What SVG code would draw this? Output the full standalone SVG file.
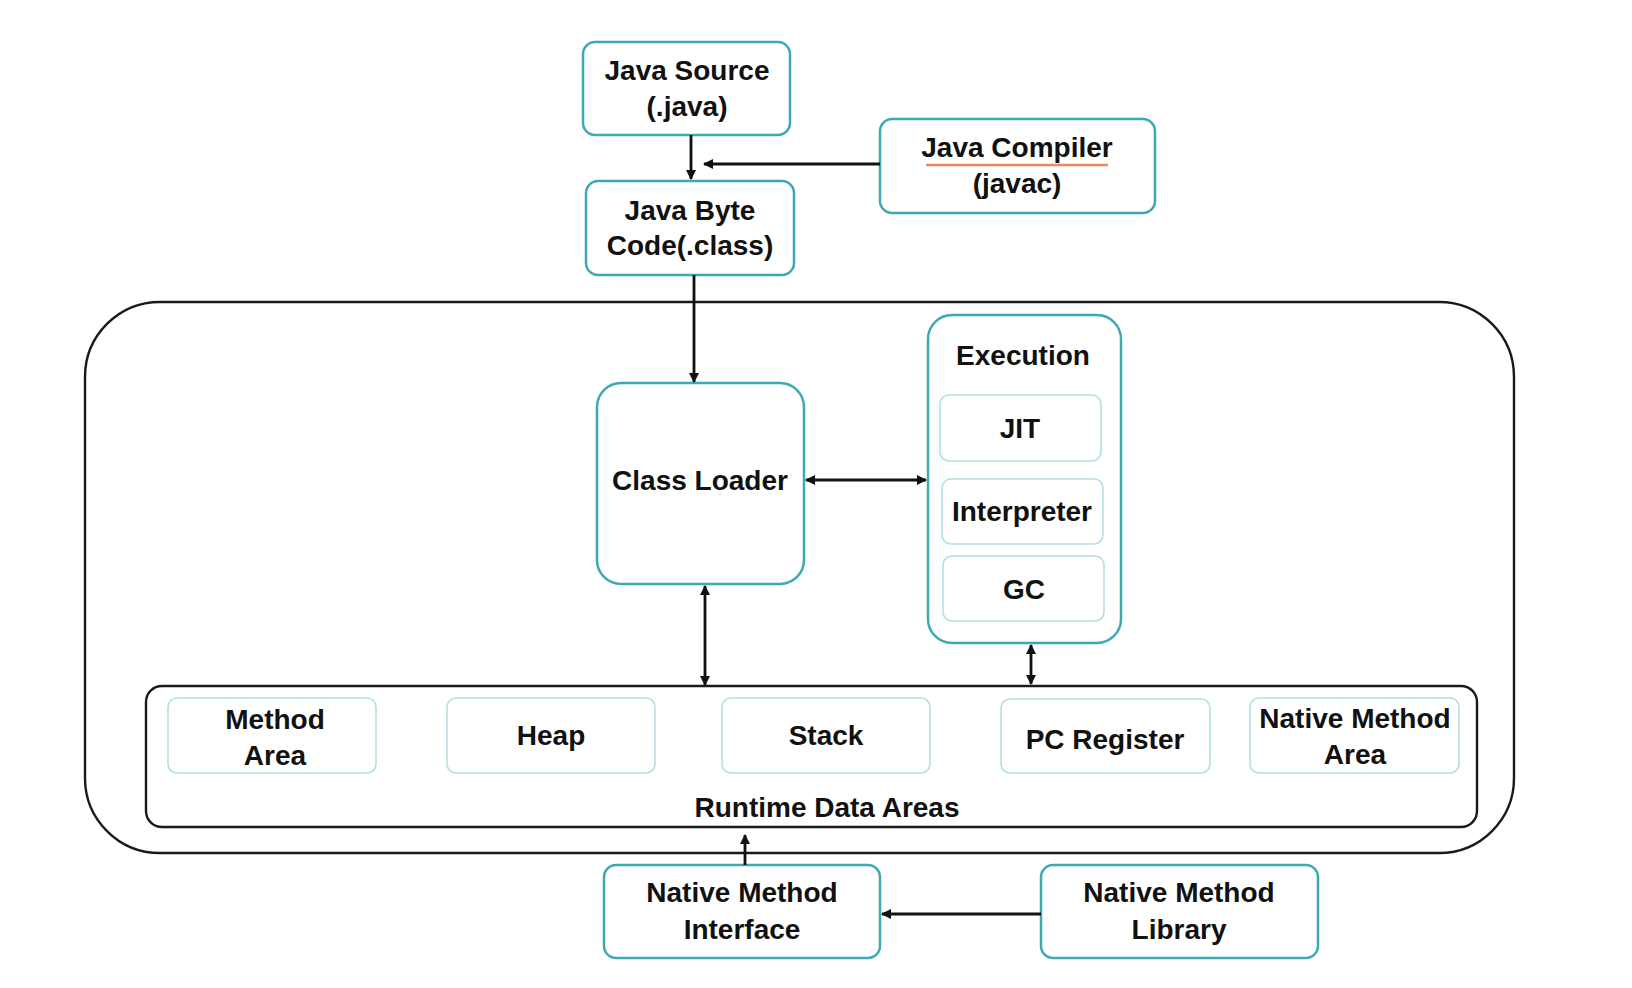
<svg xmlns="http://www.w3.org/2000/svg" width="1632" height="988" viewBox="0 0 1632 988">
<style>
.n{fill:#fff;stroke:#3fa9b1;stroke-width:2.5}
.s{fill:#fff;stroke:#b3dfe2;stroke-width:1.6}
.frame{fill:none;stroke:#1a1a1a;stroke-width:2.4}
.t{font-family:"Liberation Sans",Arial,sans-serif;font-weight:bold;font-size:28px;fill:#111;text-anchor:middle}
.c{stroke:#111;stroke-width:2.8;fill:none}
</style>
<defs>
<marker id="ah" viewBox="0 0 10 10" refX="9" refY="5" markerWidth="11" markerHeight="10" markerUnits="userSpaceOnUse" orient="auto-start-reverse">
<path d="M0,0 L10,5 L0,10 z" fill="#111"/>
</marker>
</defs>
<rect width="1632" height="988" fill="#fff"/>
<g id="jvm-frame"><rect class="frame" x="85" y="302" width="1429" height="551" rx="75"/></g>
<g id="runtime-data-areas"><rect class="frame" x="146" y="686" width="1331" height="141" rx="16"/>
<text class="t" x="827" y="817">Runtime Data Areas</text></g>
<g id="java-source"><rect class="n" x="583" y="42" width="207" height="93" rx="12"/>
<text class="t" x="687" y="80">Java Source</text><text class="t" x="687" y="116">(.java)</text></g>
<g id="java-compiler"><rect class="n" x="880" y="119" width="275" height="94" rx="12"/>
<text class="t" x="1017" y="157">Java Compiler</text><text class="t" x="1017" y="193">(javac)</text>
<line x1="926" y1="165" x2="1108" y2="165" stroke="#f0885a" stroke-width="2.5"/></g>
<g id="java-byte-code"><rect class="n" x="586" y="181" width="208" height="94" rx="12"/>
<text class="t" x="690" y="220">Java Byte</text><text class="t" x="690" y="255">Code(.class)</text></g>
<g id="class-loader"><rect class="n" x="597" y="383" width="207" height="201" rx="24"/>
<text class="t" x="700" y="490">Class Loader</text></g>
<g id="execution"><rect class="n" x="928" y="315" width="193" height="328" rx="24"/>
<text class="t" x="1023" y="365">Execution</text></g>
<g id="jit"><rect class="s" x="940" y="395" width="161" height="66" rx="9"/>
<text class="t" x="1020" y="438">JIT</text></g>
<g id="interpreter"><rect class="s" x="942" y="479" width="161" height="65" rx="9"/>
<text class="t" x="1022" y="521">Interpreter</text></g>
<g id="gc"><rect class="s" x="943" y="556" width="161" height="65" rx="9"/>
<text class="t" x="1024" y="599">GC</text></g>
<g id="method-area"><rect class="s" x="168" y="698" width="208" height="75" rx="9"/>
<text class="t" x="275" y="729">Method</text><text class="t" x="275" y="765">Area</text></g>
<g id="heap"><rect class="s" x="447" y="698" width="208" height="75" rx="9"/>
<text class="t" x="551" y="745">Heap</text></g>
<g id="stack"><rect class="s" x="722" y="698" width="208" height="75" rx="9"/>
<text class="t" x="826" y="745">Stack</text></g>
<g id="pc-register"><rect class="s" x="1001" y="699" width="209" height="74" rx="9"/>
<text class="t" x="1105" y="749">PC Register</text></g>
<g id="native-method-area"><rect class="s" x="1250" y="698" width="209" height="75" rx="9"/>
<text class="t" x="1355" y="728">Native Method</text><text class="t" x="1355" y="764">Area</text></g>
<g id="native-method-interface"><rect class="n" x="604" y="865" width="276" height="93" rx="12"/>
<text class="t" x="742" y="902">Native Method</text><text class="t" x="742" y="939">Interface</text></g>
<g id="native-method-library"><rect class="n" x="1041" y="865" width="277" height="93" rx="12"/>
<text class="t" x="1179" y="902">Native Method</text><text class="t" x="1179" y="939">Library</text></g>
<g id="connectors">
<line class="c" x1="691" y1="135" x2="691" y2="179" marker-end="url(#ah)"/>
<line class="c" x1="880" y1="164" x2="704" y2="164" marker-end="url(#ah)"/>
<line class="c" x1="694" y1="275" x2="694" y2="382" marker-end="url(#ah)"/>
<line class="c" x1="806" y1="480" x2="926" y2="480" marker-start="url(#ah)" marker-end="url(#ah)"/>
<line class="c" x1="705" y1="586" x2="705" y2="685" marker-start="url(#ah)" marker-end="url(#ah)"/>
<line class="c" x1="1031" y1="645" x2="1031" y2="684" marker-start="url(#ah)" marker-end="url(#ah)"/>
<line class="c" x1="745" y1="865" x2="745" y2="835" marker-end="url(#ah)"/>
<line class="c" x1="1041" y1="914" x2="882" y2="914" marker-end="url(#ah)"/>
</g>
</svg>
